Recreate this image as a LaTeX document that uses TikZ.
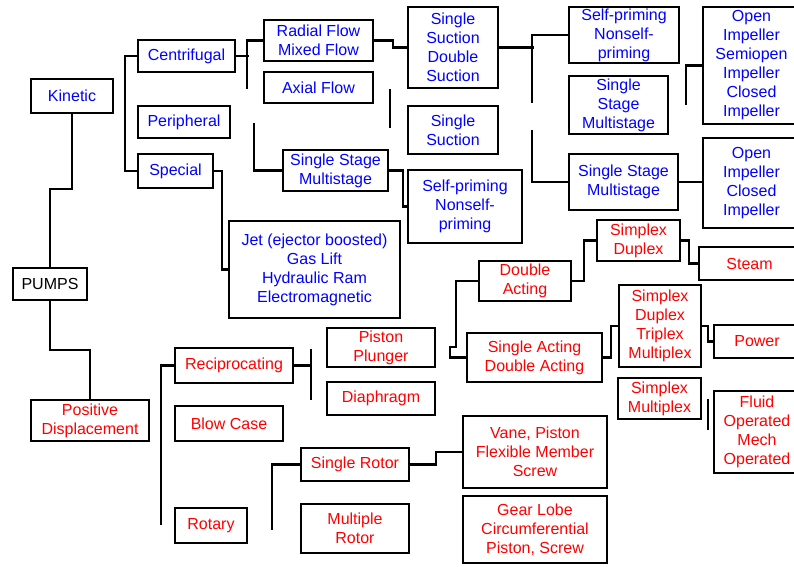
\documentclass[tikz,border=0pt]{standalone}
\usepackage{fontspec}
\setmainfont{Liberation Sans}
\usetikzlibrary{calc}

\begin{document}
\begin{tikzpicture}[x=1pt,y=-1pt,
    box/.style={draw,line width=2.4pt,align=center,inner sep=1pt,
      font=\fontsize{16}{19}\selectfont},
    kbox/.style={box,text=blue},
    pbox/.style={box,text=red},
    link/.style={line width=2.4pt}]
  \useasboundingbox (0,0) rectangle (794,566);

  % root
  \node[box,minimum width=74,minimum height=32] (pumps) at (50,284) {PUMPS};

  % kinetic branch
  \node[kbox,minimum width=82,minimum height=34] (kin) at (72,96) {Kinetic};
  \node[kbox,minimum width=97,minimum height=32] (cen) at (186.5,56) {Centrifugal};
  \node[kbox,minimum width=92,minimum height=32] (per) at (184,122) {Peripheral};
  \node[kbox,minimum width=75,minimum height=34] (spe) at (175.5,171) {Special};
  \node[kbox,minimum width=109,minimum height=41] (rad) at (318.5,40.5) {Radial Flow\\Mixed Flow};
  \node[kbox,minimum width=109,minimum height=31] (axi) at (318.5,87.5) {Axial Flow};
  \node[kbox,minimum width=105,minimum height=41] (ssm) at (335.5,170.5) {Single Stage\\Multistage};
  \node[kbox,minimum width=171,minimum height=97] (jet) at (314.5,269.5)
    {Jet (ejector boosted)\\Gas Lift\\Hydraulic Ram\\Electromagnetic};
  \node[kbox,minimum width=90,minimum height=81] (ssd) at (453,47.5) {Single\\Suction\\Double\\Suction};
  \node[kbox,minimum width=90,minimum height=48] (sgs) at (453,130) {Single\\Suction};
  \node[kbox,minimum width=114,minimum height=73] (spn) at (465,206.5) {Self-priming\\Nonself-\\priming};
  \node[kbox,minimum width=110,minimum height=56] (spa) at (624,35) {Self-priming\\Nonself-\\priming};
  \node[kbox,minimum width=99,minimum height=58] (smu) at (618.5,105) {Single\\Stage\\Multistage};
  \node[kbox,minimum width=109,minimum height=56] (ssl) at (623.5,182) {Single Stage\\Multistage};
  \node[kbox,minimum width=97,minimum height=117] (oim) at (751.5,65.5)
    {Open\\Impeller\\Semiopen\\Impeller\\Closed\\Impeller};
  \node[kbox,minimum width=97,minimum height=90] (oic) at (751.5,183)
    {Open\\Impeller\\Closed\\Impeller};

  % positive displacement branch
  \node[pbox,minimum width=118,minimum height=41] (pos) at (90,420.5) {Positive\\Displacement};
  \node[pbox,minimum width=118,minimum height=35] (rec) at (234,365.5) {Reciprocating};
  \node[pbox,minimum width=108,minimum height=35] (blo) at (229,423.5) {Blow Case};
  \node[pbox,minimum width=72,minimum height=35] (rot) at (211,525.5) {Rotary};
  \node[pbox,minimum width=108,minimum height=39] (pis) at (381,347.5) {Piston\\Plunger};
  \node[pbox,minimum width=108,minimum height=33] (dia) at (381,398.5) {Diaphragm};
  \node[pbox,minimum width=108,minimum height=33] (sro) at (355,464.5) {Single Rotor};
  \node[pbox,minimum width=108,minimum height=49] (mro) at (355,528.5) {Multiple\\Rotor};
  \node[pbox,minimum width=92,minimum height=40] (dac) at (525,281) {Double\\Acting};
  \node[pbox,minimum width=135,minimum height=49] (sad) at (534.5,357.5) {Single Acting\\Double Acting};
  \node[pbox,minimum width=83,minimum height=41] (sdu) at (638.5,240.5) {Simplex\\Duplex};
  \node[pbox,minimum width=82,minimum height=82] (sdt) at (660,326) {Simplex\\Duplex\\Triplex\\Multiplex};
  \node[pbox,minimum width=83,minimum height=41] (smx) at (659.5,398.5) {Simplex\\Multiplex};
  \node[pbox,minimum width=101,minimum height=33] (ste) at (749.5,263.5) {Steam};
  \node[pbox,minimum width=86,minimum height=33] (pow) at (757,341.5) {Power};
  \node[pbox,minimum width=86,minimum height=82] (flu) at (757,432) {Fluid\\Operated\\Mech\\Operated};
  \node[pbox,minimum width=144,minimum height=72] (vpi) at (535,452) {Vane, Piston\\Flexible Member\\Screw};
  \node[pbox,minimum width=144,minimum height=67] (glo) at (535,529.5) {Gear Lobe\\Circumferential\\Piston, Screw};

  % connectors, kinetic
  \draw[link] (pumps.north) -- ++(0,-78) -| (kin.south);
  \draw[link] (cen.west) -- ++(-12,0) |- (spe.west);
  \draw[link] (cen.east) -- ++(13,0);
  \draw[link] (rad.west) -| ++(-16,48);
  \draw[link] (rad.east) -- ++(19,0) |- (ssd.west);
  \draw[link] (sgs.west) ++(-17,-2) -- ++(0,-39);
  \draw[link] (ssm.west) -| ++(-28,-48);
  \draw[link] (spe.east) -- ++(8,0) |- (jet.west);
  \draw[link] (ssm.east) -- ++(14,0) |- (spn.west);
  \draw[link] (ssd.east) -- ++(35,0);
  \draw[link] (spa.west) -| ++(-36,68);
  \draw[link] (ssl.west) -| ++(-36,-52);
  \draw[link] (oim.west) -| ++(-16,39);
  \draw[link] (ssl.east) -- (ssl.east -| oic.west);

  % connectors, positive displacement
  \draw[link] (pumps.south) -- ++(0,49) -| (pos.north);
  \draw[link] (rec.west) -| ++(-13,159);
  \draw[link] (rec.east) -- ++(17,0) coordinate (rj);
  \draw[link] (rj) ++(0,-17) -- ++(0,51);
  \draw[link] (sro.west) -| ++(-28,65);
  \draw[link] (sro.east) -- ++(26,0) |- (vpi.west);
  \draw[link] (dac.west) -- ++(-22,0) -- ++(0,66) -- ++(-6,0) |- (sad.west);
  \draw[link] (dac.east) -- ++(12,0) |- (sdu.west);
  \draw[link] (sdu.east) -- ++(8,0) |- (ste.west);
  \draw[link] (sad.east) -- ++(8,0) |- (sdt.west);
  \draw[link] (sdt.east) -- ++(6,0) |- (pow.west);
  \draw[link] (smx.east) ++(6,0) -- ++(0,31);
\end{tikzpicture}
\end{document}
